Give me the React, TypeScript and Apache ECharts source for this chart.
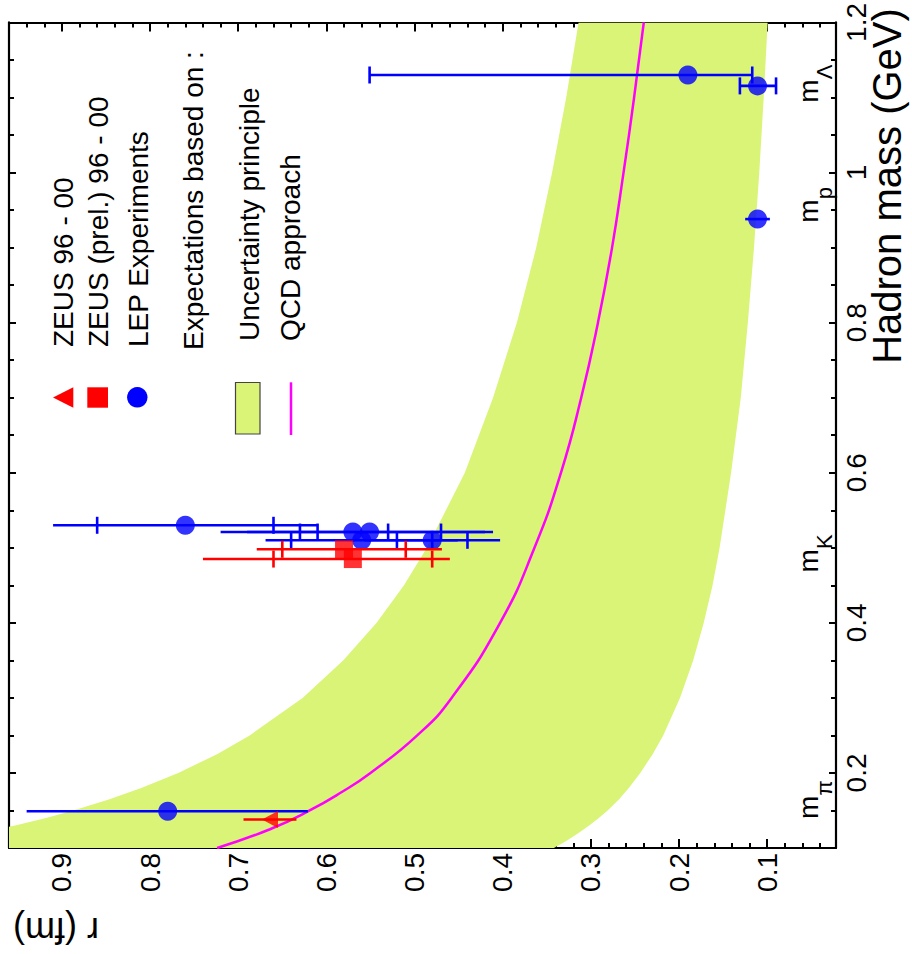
import React, { useEffect, useRef } from 'react';
import * as echarts from 'echarts';

// ---- axis ticks ----
const rMajorTicks = [0.1, 0.2, 0.3, 0.4, 0.5, 0.6, 0.7, 0.8, 0.9];
const rMinorTicks = [0.04, 0.06, 0.08, 0.12, 0.14, 0.16, 0.18, 0.22, 0.24, 0.26, 0.28, 0.32, 0.34, 0.36, 0.38, 0.42, 0.44, 0.46, 0.48, 0.52, 0.54, 0.56, 0.58, 0.62, 0.64, 0.66, 0.68, 0.72, 0.74, 0.76, 0.78, 0.82, 0.84, 0.86, 0.88, 0.92, 0.94];
const massMajorTicks = [0.2, 0.4, 0.6, 0.8, 1, 1.2];
const massMinorTicks = [0.15, 0.25, 0.3, 0.35, 0.45, 0.5, 0.55, 0.65, 0.7, 0.75, 0.85, 0.9, 0.95, 1.05, 1.1, 1.15];

// ---- uncertainty principle band (r in fm vs hadron mass in GeV) ----
const bandMass = [0.1, 0.11, 0.12, 0.13, 0.14, 0.15, 0.165, 0.18, 0.2, 0.225, 0.25, 0.3, 0.35, 0.4, 0.45, 0.5, 0.6, 0.7, 0.8, 0.9, 1.0, 1.1, 1.2];
const bandUpper = [1.086, 1.036, 0.992, 0.953, 0.918, 0.887, 0.846, 0.81, 0.768, 0.724, 0.687, 0.627, 0.581, 0.543, 0.512, 0.486, 0.443, 0.411, 0.384, 0.362, 0.344, 0.328, 0.314];
const bandLower = [0.342, 0.327, 0.314, 0.302, 0.291, 0.281, 0.268, 0.257, 0.244, 0.23, 0.218, 0.199, 0.184, 0.172, 0.162, 0.154, 0.141, 0.13, 0.122, 0.115, 0.109, 0.104, 0.0995];

// ---- QCD approach curve ----
const qcdMass = [0.1, 0.125, 0.15, 0.175, 0.2, 0.25, 0.3, 0.4, 0.5, 0.6, 0.7, 0.8, 0.9, 1.0, 1.1, 1.2];
const qcdR = [0.724, 0.664, 0.619, 0.582, 0.55, 0.497, 0.458, 0.403, 0.364, 0.334, 0.311, 0.292, 0.276, 0.263, 0.251, 0.24];

// ---- LEP experiments ----
const lepMass = [0.149, 0.53, 0.521, 0.521, 0.51, 0.51, 0.938, 1.1155, 1.13];
const lepR = [0.78, 0.76, 0.57, 0.551, 0.56, 0.48, 0.111, 0.111, 0.19];
const lepLo = [0.621, 0.61, 0.42, 0.411, 0.451, 0.403, 0.097, 0.09, 0.117];
const lepHi = [0.94, 0.91, 0.72, 0.69, 0.669, 0.557, 0.125, 0.131, 0.551];
const lepStatLo = [null, 0.66, 0.53, 0.47, 0.48, 0.44, null, 0.09, 0.117];
const lepStatHi = [null, 0.86, 0.61, 0.63, 0.64, 0.52, null, 0.131, 0.551];

// ---- ZEUS (prel.) 96 - 00 ----
const zeusPrelMass = [0.498, 0.485];
const zeusPrelR = [0.58, 0.57];
const zeusPrelLo = [0.469, 0.46];
const zeusPrelHi = [0.679, 0.74];
const zeusPrelStatLo = [0.51, 0.48];
const zeusPrelStatHi = [0.65, 0.66];

// ---- ZEUS 96 - 00 ----
const zeusMass = [0.138];
const zeusR = [0.664];
const zeusLo = [0.634];
const zeusHi = [0.694];

// ---- hadron mass labels ----
const hadronLabelMass = [0.1386, 0.467, 0.933, 1.093];
const hadronLabelSub = ['π', 'K', 'p', 'Λ'];

const FONT = "'Liberation Sans', Arial, Helvetica, sans-serif";
const BLUE = '#0000ff';
const RED = '#ff0000';
const GREEN = '#d9f476';
const MAGENTA = '#ff00ff';

function errRender(color: string) {
  return (params: any, api: any) => {
    const m = api.value(1);
    const a = api.coord([api.value(2), m]);
    const b = api.coord([api.value(3), m]);
    const children: any[] = [
      { type: 'line', shape: { x1: a[0], y1: a[1], x2: b[0], y2: b[1] }, style: { stroke: color, lineWidth: 2.6 } },
    ];
    [4, 5].forEach((i) => {
      const v = api.value(i);
      if (typeof v === 'number' && Number.isFinite(v)) {
        const p = api.coord([v, m]);
        children.push({ type: 'line', shape: { x1: p[0], y1: p[1] - 8.5, x2: p[0], y2: p[1] + 8.5 }, style: { stroke: color, lineWidth: 2.6 } });
      }
    });
    return { type: 'group', children };
  };
}

function makeX(position: string, ticks: number[], len: number, line: boolean, labels: boolean): any {
  return {
    type: 'value', min: 0.022, max: 0.96, inverse: true, position,
    splitLine: { show: false },
    axisLine: { show: line, onZero: false, lineStyle: { color: '#000', width: 2.2 } },
    axisTick: { show: true, inside: true, length: len, customValues: ticks, lineStyle: { color: '#000', width: 2 } },
    axisLabel: labels
      ? { show: true, customValues: rMajorTicks, rotate: 90, margin: 5, fontSize: 28, color: '#000', fontFamily: FONT }
      : { show: false },
  };
}

function makeY(position: string, ticks: number[], len: number, line: boolean, labels: boolean): any {
  return {
    type: 'value', min: 0.1, max: 1.2, position,
    splitLine: { show: false },
    axisLine: { show: line, onZero: false, lineStyle: { color: '#000', width: 2.2 } },
    axisTick: { show: true, inside: true, length: len, customValues: ticks, lineStyle: { color: '#000', width: 2 } },
    axisLabel: labels
      ? { show: true, customValues: massMajorTicks, rotate: 90, margin: 6, fontSize: 28, color: '#000', fontFamily: FONT }
      : { show: false },
  };
}

function txt(text: string, x: number, y: number, fontSize: number, rotation: number, align: string, extra: any = {}): any {
  return {
    type: 'text', x, y, rotation, z: 100, silent: true,
    style: { text, fontSize, fontFamily: FONT, fill: '#000', align, verticalAlign: 'middle', ...extra },
  };
}

export default function App() {
  const ref = useRef<HTMLDivElement>(null);
  useEffect(() => {
    if (!ref.current) return;
    const chart = echarts.init(ref.current, null, { renderer: 'svg' });
    const option: any = {
      animation: false,
      textStyle: { fontFamily: FONT },
      grid: { left: 9, top: 21, width: 827, height: 827, containLabel: false },
      xAxis: [
        makeX('bottom', rMajorTicks, 9, true, true),
        makeX('bottom', rMinorTicks, 5, false, false),
        makeX('top', rMajorTicks, 9, true, false),
        makeX('top', rMinorTicks, 5, false, false),
      ],
      yAxis: [
        makeY('right', massMajorTicks, 7, true, true),
        makeY('right', massMinorTicks, 5, false, false),
        makeY('left', massMajorTicks, 7, true, false),
        makeY('left', massMinorTicks, 5, false, false),
      ],
      series: [
        {
          type: 'custom', z: 1, silent: true, data: [[0.5, 0.5]],
          renderItem: (params: any, api: any) => {
            const pts: number[][] = [];
            bandMass.forEach((m, i) => pts.push(api.coord([bandUpper[i], m])));
            for (let i = bandMass.length - 1; i >= 0; i--) pts.push(api.coord([bandLower[i], bandMass[i]]));
            const cs = params.coordSys;
            return {
              type: 'polygon', shape: { points: pts },
              style: { fill: GREEN, stroke: null },
              clipPath: { type: 'rect', shape: { x: cs.x, y: cs.y, width: cs.width, height: cs.height } },
            };
          },
        },
        {
          type: 'line', z: 2, silent: true, showSymbol: false, smooth: true,
          data: qcdR.map((r, i) => [r, qcdMass[i]]),
          lineStyle: { color: MAGENTA, width: 2.5 },
        },
        {
          type: 'custom', z: 3, silent: true,
          data: lepMass.map((m, i) => [lepR[i], m, lepLo[i], lepHi[i], lepStatLo[i], lepStatHi[i]]),
          encode: { x: 0, y: 1 },
          renderItem: errRender(BLUE),
        },
        {
          type: 'scatter', z: 4, silent: true, symbol: 'circle', symbolSize: 19,
          itemStyle: { color: BLUE },
          data: lepMass.map((m, i) => [lepR[i], m]),
        },
        {
          type: 'custom', z: 5, silent: true,
          data: zeusPrelMass.map((m, i) => [zeusPrelR[i], m, zeusPrelLo[i], zeusPrelHi[i], zeusPrelStatLo[i], zeusPrelStatHi[i]]),
          encode: { x: 0, y: 1 },
          renderItem: errRender(RED),
        },
        {
          type: 'custom', z: 5, silent: true,
          data: zeusMass.map((m, i) => [zeusR[i], m, zeusLo[i], zeusHi[i], null, null]),
          encode: { x: 0, y: 1 },
          renderItem: errRender(RED),
        },
        {
          type: 'scatter', z: 6, silent: true, symbol: 'rect', symbolSize: 18,
          itemStyle: { color: RED },
          data: zeusPrelMass.map((m, i) => [zeusPrelR[i], m]),
        },
        {
          type: 'scatter', z: 6, silent: true, symbol: 'triangle', symbolSize: [17, 16], symbolRotate: 90,
          itemStyle: { color: RED },
          data: zeusMass.map((m, i) => [zeusR[i], m]),
        },
      ],
    };
    chart.setOption(option);

    const R = Math.PI / 2;
    const frameRight = chart.convertToPixel({ xAxisIndex: 0 }, 0.022) as number;
    const hadronLabels: any[] = [];
    hadronLabelMass.forEach((m, i) => {
      const y = chart.convertToPixel({ yAxisIndex: 0 }, m) as number;
      hadronLabels.push(txt('m', frameRight - 27.7, y, 28, R, 'left'));
      hadronLabels.push(txt(hadronLabelSub[i], frameRight - 11.6, y - 23.6, 22, R, 'left'));
    });

    const legend: any[] = [
      txt('ZEUS 96 - 00', 63, 347, 28, R, 'left'),
      txt('ZEUS (prel.) 96 - 00', 98, 347, 28, R, 'left'),
      txt('LEP Experiments', 138, 347, 28, R, 'left'),
      txt('Expectations based on :', 193, 350, 28, R, 'left'),
      txt('Uncertainty principle', 249, 341, 28, R, 'left'),
      txt('QCD approach', 290, 341, 28, R, 'left'),
      { type: 'polygon', z: 100, silent: true, shape: { points: [[53, 397.5], [73.3, 387.3], [73.3, 407.7]] }, style: { fill: RED } },
      { type: 'rect', z: 100, silent: true, shape: { x: 87.3, y: 387.3, width: 20.7, height: 20.4 }, style: { fill: RED } },
      { type: 'circle', z: 100, silent: true, shape: { cx: 137.3, cy: 397.3, r: 10.2 }, style: { fill: BLUE } },
      { type: 'rect', z: 100, silent: true, shape: { x: 235.5, y: 382.5, width: 24.5, height: 51.5 }, style: { fill: GREEN, stroke: '#444', lineWidth: 1.2 } },
      { type: 'line', z: 100, silent: true, shape: { x1: 291, y1: 382.3, x2: 291, y2: 435 }, style: { stroke: MAGENTA, lineWidth: 2.5 } },
      txt('Hadron mass (GeV)', 887, 186, 40, R, 'center'),
      txt('r (fm)', 56, 930, 36, Math.PI, 'center'),
    ];

    chart.setOption({ graphic: [...legend, ...hadronLabels] });
    return () => chart.dispose();
  }, []);
  return <div ref={ref} style={{ position: 'absolute', left: 0, top: 0, width: 912, height: 954 }} />;
}
